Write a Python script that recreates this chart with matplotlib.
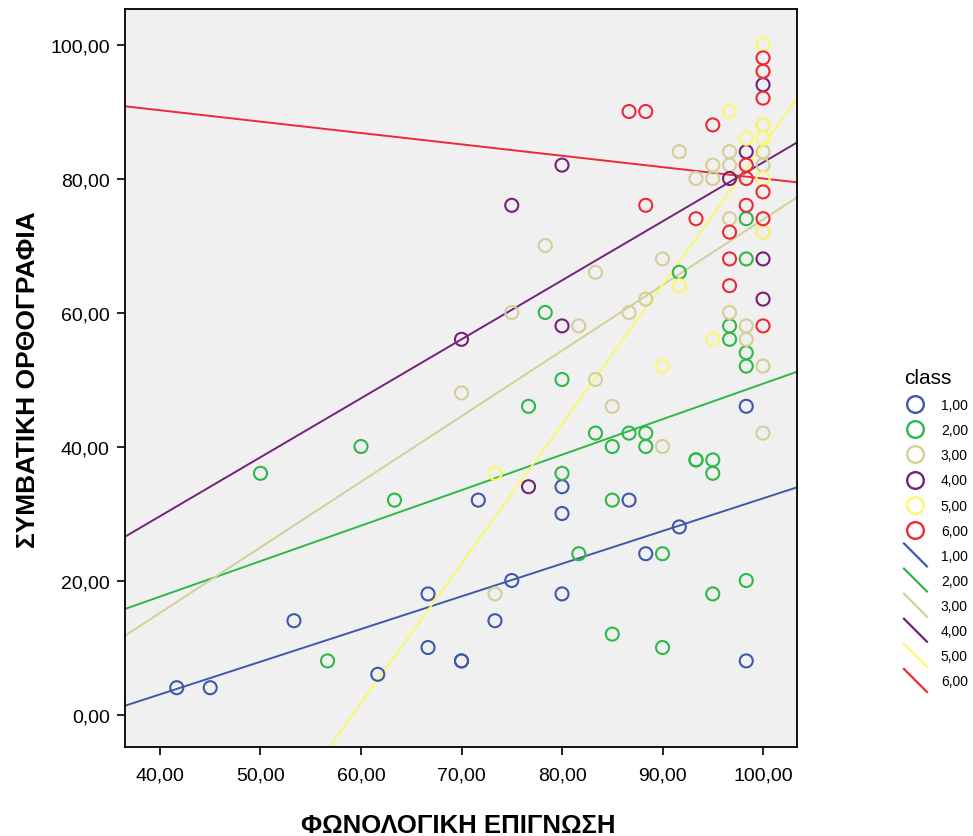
import numpy as np
import matplotlib
matplotlib.use('Agg')
import matplotlib.pyplot as plt
from matplotlib.lines import Line2D
from matplotlib.legend_handler import HandlerBase

# groups and SPSS-like palette
classes = ['1,00', '2,00', '3,00', '4,00', '5,00', '6,00']
colors = ['#3E58AC', '#2EB848', '#D4CE97', '#752179', '#FBF86A', '#ED2939']

# x = phonological awareness, y = spelling
x1 = [41.67, 45, 53.33, 61.67, 66.67, 66.67, 70, 70, 71.67, 73.33, 75, 80, 80, 80, 86.67, 88.33, 91.67, 98.33, 98.33]
y1 = [4, 4, 14, 6, 18, 10, 8, 8, 32, 14, 20, 34, 30, 18, 32, 24, 28, 46, 8]

x2 = [50, 56.67, 60, 63.33, 76.67, 78.33, 80, 80, 81.67, 83.33, 85, 85, 85, 86.67, 88.33, 88.33, 90, 90,
      91.67, 93.33, 93.33, 95, 95, 95, 96.67, 96.67, 98.33, 98.33, 98.33, 98.33, 98.33]
y2 = [36, 8, 40, 32, 46, 60, 50, 36, 24, 42, 40, 32, 12, 42, 42, 40, 24, 10,
      66, 38, 38, 38, 36, 18, 58, 56, 74, 68, 54, 52, 20]

x3 = [70, 73.33, 75, 78.33, 81.67, 83.33, 83.33, 85, 86.67, 88.33, 90, 90, 91.67, 93.33, 95, 95,
      96.67, 96.67, 96.67, 96.67, 98.33, 98.33, 100, 100, 100, 100, 100, 100]
y3 = [48, 18, 60, 70, 58, 66, 50, 46, 60, 62, 68, 40, 84, 80, 82, 80,
      84, 82, 74, 60, 58, 56, 88, 84, 82, 72, 52, 42]

x4 = [70, 75, 76.67, 80, 80, 96.67, 98.33, 100, 100, 100]
y4 = [56, 76, 34, 82, 58, 80, 84, 94, 68, 62]

x5 = [73.33, 90, 91.67, 95, 96.67, 98.33, 100, 100, 100, 100, 100, 100]
y5 = [36, 52, 64, 56, 90, 86, 100, 96, 88, 86, 80, 72]

x6 = [86.67, 88.33, 88.33, 93.33, 95, 96.67, 96.67, 96.67, 98.33, 98.33, 98.33,
      100, 100, 100, 100, 100, 100]
y6 = [90, 90, 76, 74, 88, 72, 68, 64, 82, 80, 76, 98, 96, 92, 78, 74, 58]

# fit lines per class (intercept, slope) as drawn in the original
fit_icept = [-16.50, -3.59, -23.98, -5.60, -123.11, 96.98]
fit_slope = [0.4876, 0.5296, 0.9786, 0.880, 2.0805, -0.1698]

xticks = [40, 50, 60, 70, 80, 90, 100]
yticks = [0, 20, 40, 60, 80, 100]

xs_all = [x1, x2, x3, x4, x5, x6]
ys_all = [y1, y2, y3, y4, y5, y6]


class DiagHandler(HandlerBase):
    # legend line drawn as a diagonal stroke
    def create_artists(self, legend, orig_handle, xdescent, ydescent,
                       width, height, fontsize, trans):
        x0 = -xdescent
        yc = -ydescent + height / 2
        d = width / 2
        ln = Line2D([x0, x0 + width], [yc + d, yc - d],
                    color=orig_handle.get_color(), lw=orig_handle.get_linewidth())
        ln.set_transform(trans)
        return [ln]


plt.rcParams['font.family'] = ['Liberation Sans', 'DejaVu Sans']

fig = plt.figure(figsize=(9.73, 8.37), dpi=100)
ax = fig.add_axes([125 / 973, 1 - 748 / 837, 672 / 973, 738 / 837])
ax.set_facecolor('#F0F0F0')

xlim = (36.52, 103.38)
ylim = (-4.85, 105.3)
ax.set_xlim(xlim)
ax.set_ylim(ylim)

for xs, ys, c in zip(xs_all, ys_all, colors):
    ax.scatter(xs, ys, s=88, facecolors='none', edgecolors=c, linewidths=1.5, zorder=3)

xx = np.array(xlim)
for b, m, c in zip(fit_icept, fit_slope, colors):
    ax.plot(xx, b + m * xx, color=c, lw=1.4, zorder=2)

ax.set_xticks(xticks)
ax.set_xticklabels([f'{v:.2f}'.replace('.', ',') for v in xticks])
ax.set_yticks(yticks)
ax.set_yticklabels([f'{v:.2f}'.replace('.', ',') for v in yticks])
ax.tick_params(axis='both', direction='out', length=6, width=1.2, labelsize=14, color='black')
ax.tick_params(axis='x', pad=8)
ax.tick_params(axis='y', pad=5)
for sp in ax.spines.values():
    sp.set_linewidth(1.3)
    sp.set_color('black')

fig.text(458 / 973, 1 - 826 / 837, 'ΦΩΝΟΛΟΓΙΚΗ ΕΠΙΓΝΩΣΗ', ha='center', va='center',
         fontsize=18.5, fontweight='bold')
fig.text(28 / 973, 1 - 380 / 837, 'ΣΥΜΒΑΤΙΚΗ ΟΡΘΟΓΡΑΦΙΑ', ha='center', va='center',
         rotation=90, fontsize=19, fontweight='bold')

# legend: markers then fit lines
mk_handles = [Line2D([], [], ls='none', marker='o', markersize=12, mfc='none', mec=c, mew=1.7)
              for c in colors]
ln_handles = [Line2D([], [], color=c, lw=1.6) for c in colors]
hmap = {h: DiagHandler() for h in ln_handles}
leg = fig.legend(mk_handles + ln_handles, classes + classes, title='class',
                 loc='upper left', bbox_to_anchor=(904 / 973, 1 - 369 / 837),
                 frameon=False, fontsize=10, title_fontsize=15, handler_map=hmap,
                 handlelength=1.65, handletextpad=1.0, labelspacing=0.8,
                 borderpad=0, borderaxespad=0, alignment='left')

fig.savefig('out.png', dpi=100)
